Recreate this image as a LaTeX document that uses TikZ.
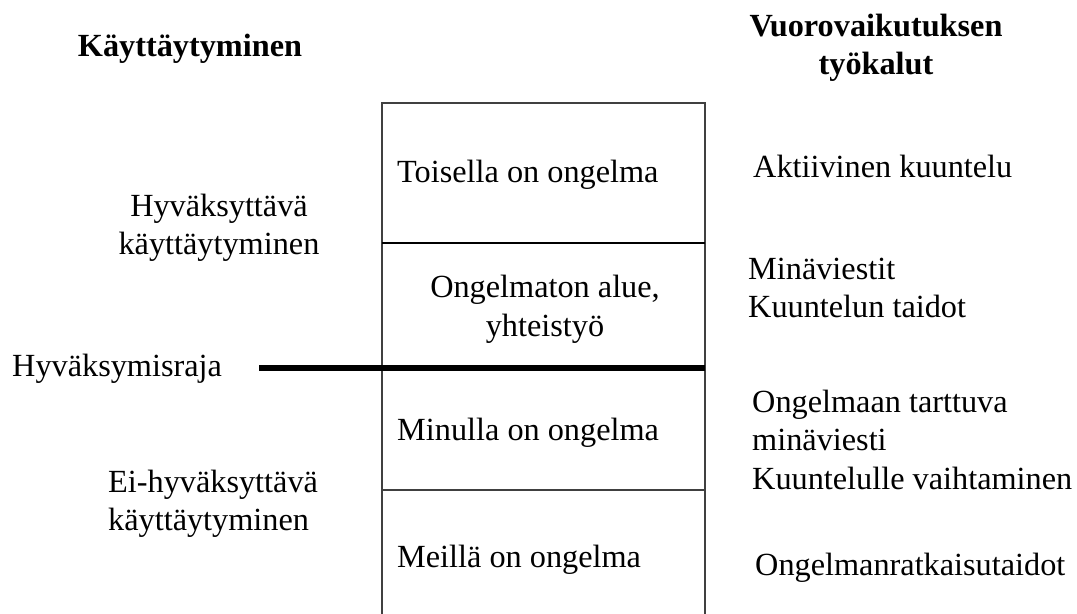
\documentclass[tikz,border=0pt]{standalone}
\usepackage{fontspec}
\setmainfont{Liberation Serif}
\begin{document}
\begin{tikzpicture}[x=1bp,y=-1bp,
  txt/.style={inner sep=0pt,font=\fontsize{32.4}{38}\selectfont},
  head/.style={txt,font=\fontsize{32.4}{38}\selectfont\bfseries},
  boxline/.style={draw=black!75,line width=1.8bp},
  divline/.style={draw=black,line width=2.4bp},
  limit/.style={draw=black,line width=5.5bp}]
\useasboundingbox (0,0) rectangle (1077,614);
% box
\coordinate (tl) at (382,103);
\coordinate (tr) at (705,103);
\coordinate (bl) at (382,614);
\coordinate (br) at (705,614);
\coordinate (d1l) at (382,243);
\coordinate (d1r) at (705,243);
\coordinate (d2r) at (705,368);
\coordinate (d3l) at (382,490);
\coordinate (d3r) at (705,490);
\draw[boxline] (bl) -- (tl) -- (tr) -- (br);
\draw[divline] (d1l) -- (d1r);
\draw[boxline] (d3l) -- (d3r);
% headings
\node[head,anchor=base] (h1) at (190,57) {Käyttäytyminen};
\node[head,anchor=base] (h2a) at (876,37) {Vuorovaikutuksen};
\node[head,anchor=base] (h2b) at (876,75) {työkalut};
% left column
\node[txt,anchor=base] (acc1) at (219,217) {Hyväksyttävä};
\node[txt,anchor=base] (acc2) at (219,255) {käyttäytyminen};
\node[txt,anchor=base west] (raja) at (12,376) {Hyväksymisraja};
\node[txt,anchor=base west] (non1) at (108,492) {Ei-hyväksyttävä};
\node[txt,anchor=base west] (non2) at (108,530) {käyttäytyminen};
\coordinate (rajaend) at (259,368);
\draw[limit] (rajaend) -- (d2r);
% box texts
\node[txt,anchor=base west] (b1) at (397,183) {Toisella on ongelma};
\node[txt,anchor=base] (b2a) at (545,298) {Ongelmaton alue,};
\node[txt,anchor=base] (b2b) at (545,336) {yhteistyö};
\node[txt,anchor=base west] (b3) at (397,440) {Minulla on ongelma};
\node[txt,anchor=base west] (b4) at (397,567) {Meillä on ongelma};
% right column
\node[txt,anchor=base west] (r1) at (753,178) {Aktiivinen kuuntelu};
\node[txt,anchor=base west] (r2a) at (748,280) {Minäviestit};
\node[txt,anchor=base west] (r2b) at (748,318) {Kuuntelun taidot};
\node[txt,anchor=base west] (r3a) at (752,412) {Ongelmaan tarttuva};
\node[txt,anchor=base west] (r3b) at (752,450) {minäviesti};
\node[txt,anchor=base west] (r3c) at (752,489) {Kuuntelulle vaihtaminen};
\node[txt,anchor=base west] (r4) at (755,575) {Ongelmanratkaisutaidot};
\end{tikzpicture}
\end{document}
